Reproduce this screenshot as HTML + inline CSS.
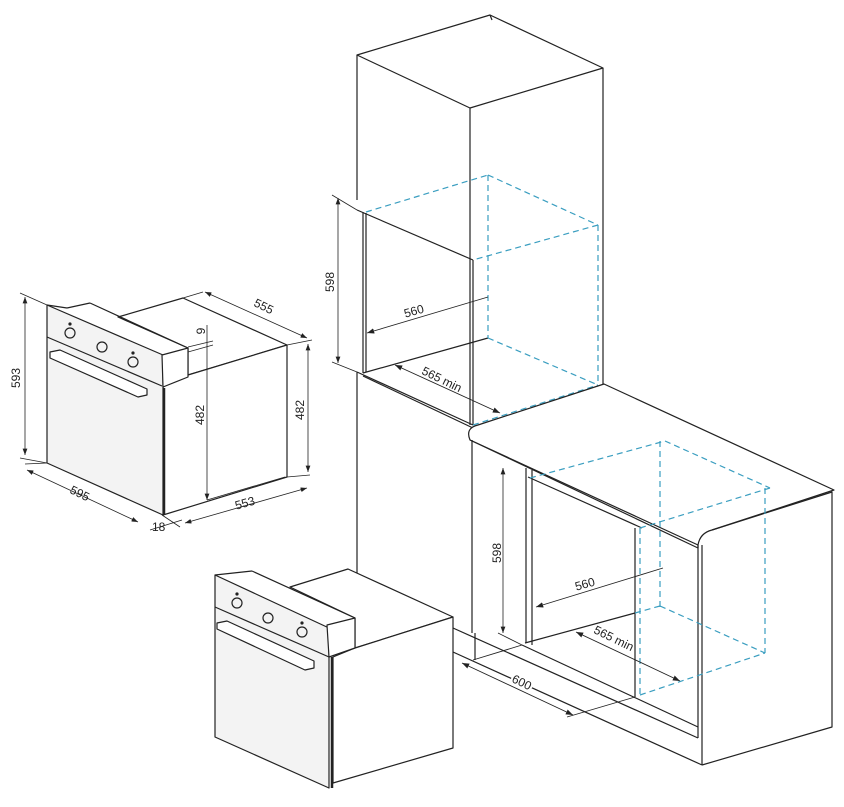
<!DOCTYPE html>
<html><head><style>
html,body{margin:0;padding:0;background:#fff;}
svg{display:block;}
text{font-family:"Liberation Sans",sans-serif;font-size:12px;fill:#222;}
</style></head><body>
<svg width="844" height="807" viewBox="0 0 844 807" xmlns="http://www.w3.org/2000/svg">
<defs>
<marker id="a" markerWidth="8" markerHeight="6" refX="8" refY="3" orient="auto-start-reverse"><path d="M0,0 L8,3 L0,6 z" fill="#222"/></marker>
</defs>
<g stroke="#222" stroke-width="1.2" fill="none" stroke-linejoin="round">

<polygon points="118,317 183,298 287,345 188,375 188,348" fill="#fff"/>
<polygon points="188,375 287,345 287,477 163,515 163,387" fill="#fff"/>
<polygon points="47,305 163,355 163,515 47,463" fill="#f3f3f3"/>
<line x1="47" y1="337" x2="162" y2="386"/>
<polygon points="162,355 188,348 188,377 163,387" fill="#fff"/>
<line x1="47" y1="305" x2="67" y2="308"/><line x1="67" y1="308" x2="90" y2="303"/><line x1="90" y1="303" x2="188" y2="348"/>
<line x1="164" y1="388" x2="164" y2="515" stroke-width="2.5"/>
<circle cx="70" cy="333" r="5"/><circle cx="102" cy="347" r="5"/><circle cx="133" cy="362" r="5"/>
<circle cx="70" cy="324" r="1" fill="#222"/><circle cx="133" cy="353" r="1" fill="#222"/>
<polygon points="50,352 60,350 147,389 147,395 138,397 50,358" fill="#fff"/>
<line x1="25" y1="297" x2="25" y2="455" marker-start="url(#a)" marker-end="url(#a)" stroke-width="0.8"/>
<line x1="20" y1="293" x2="47" y2="305" stroke-width="0.8"/><line x1="20" y1="458" x2="47" y2="463" stroke-width="0.8"/>
<line x1="27" y1="470" x2="138" y2="522" marker-start="url(#a)" marker-end="url(#a)" stroke-width="0.8"/>
<line x1="25" y1="464" x2="47" y2="463" stroke-width="0.8"/>
<line x1="162" y1="515" x2="180" y2="527" stroke-width="0.8"/>
<line x1="150" y1="530" x2="182" y2="520" stroke-width="0.8"/>
<line x1="205" y1="292" x2="307" y2="338" marker-start="url(#a)" marker-end="url(#a)" stroke-width="0.8"/>
<line x1="183" y1="298" x2="203" y2="292" stroke-width="0.8"/>
<line x1="287" y1="345" x2="312" y2="340" stroke-width="0.8"/>
<line x1="207" y1="325" x2="207" y2="500" marker-end="url(#a)" stroke-width="0.8"/>
<line x1="188" y1="352" x2="213" y2="345" stroke-width="0.8"/>
<line x1="188" y1="347" x2="213" y2="341" stroke-width="0.8"/>
<line x1="308" y1="344" x2="308" y2="472" marker-start="url(#a)" marker-end="url(#a)" stroke-width="0.8"/>
<line x1="287" y1="477" x2="310" y2="475" stroke-width="0.8"/>
<line x1="185" y1="523" x2="307" y2="488" marker-start="url(#a)" marker-end="url(#a)" stroke-width="0.8"/>
<line x1="207" y1="500" x2="285" y2="477" stroke-width="0.8"/>

<polygon points="357,55 490,15 603,68 470,108" fill="#fff"/>
<line x1="357" y1="55" x2="357" y2="200"/>
<line x1="470" y1="108" x2="470" y2="260"/>
<line x1="603" y1="68" x2="603" y2="385"/>
<line x1="490" y1="15" x2="492" y2="20"/>
<line x1="363" y1="212" x2="363" y2="373"/><line x1="366" y1="213" x2="366" y2="372"/>
<line x1="357" y1="210" x2="473" y2="260"/>
<line x1="470" y1="260" x2="470" y2="425"/><line x1="473" y1="260" x2="473" y2="425"/>
<line x1="363" y1="373" x2="488" y2="338"/>
<line x1="357" y1="372" x2="473" y2="425"/><line x1="363" y1="376" x2="473" y2="428"/>
<line x1="357" y1="372" x2="357" y2="610"/>
<line x1="473" y1="428" x2="603" y2="385"/>
<g stroke="#3a9ec0" stroke-dasharray="6,4">
<line x1="366" y1="212" x2="488" y2="175"/><line x1="488" y1="175" x2="598" y2="225"/><line x1="598" y1="225" x2="473" y2="260"/>
<line x1="488" y1="175" x2="488" y2="338"/><line x1="598" y1="225" x2="598" y2="385"/>
<line x1="488" y1="338" x2="598" y2="385"/><line x1="473" y1="425" x2="598" y2="385"/>
</g>
<line x1="338" y1="198" x2="338" y2="363" marker-start="url(#a)" marker-end="url(#a)" stroke-width="0.8"/>
<line x1="332" y1="195" x2="357" y2="210" stroke-width="0.8"/><line x1="332" y1="362" x2="357" y2="372" stroke-width="0.8"/>
<line x1="367" y1="333" x2="488" y2="297" marker-start="url(#a)" stroke-width="0.9"/>
<line x1="395" y1="365" x2="500" y2="413" marker-start="url(#a)" marker-end="url(#a)" stroke-width="0.9"/>

<path d="M470,440 Q465,428 478,425 L604,384 L834,490 L712,530 Q700,533 698,545 L698,548 Z" fill="#fff"/>
<path d="M470,440 L698,545"/>
<path d="M698,545 L698,738 M702,545 L702,765"/>
<path d="M712,530 L832,492 L832,727 L702,765"/>
<line x1="472" y1="440" x2="472" y2="633"/>
<line x1="475" y1="633" x2="475" y2="660"/>
<line x1="453" y1="628" x2="698" y2="738"/>
<line x1="453" y1="652" x2="702" y2="765"/>
<line x1="522" y1="645" x2="698" y2="727"/>
<line x1="526" y1="468" x2="526" y2="643"/><line x1="532" y1="470" x2="532" y2="645"/>
<line x1="528" y1="477" x2="642" y2="528"/>
<line x1="635" y1="528" x2="635" y2="697"/>
<line x1="525" y1="643" x2="635" y2="613"/>
<g stroke="#3a9ec0" stroke-dasharray="6,4">
<line x1="530" y1="478" x2="665" y2="441"/><line x1="665" y1="441" x2="770" y2="488"/><line x1="770" y1="488" x2="640" y2="528"/>
<line x1="660" y1="441" x2="660" y2="607"/><line x1="765" y1="488" x2="765" y2="653"/><line x1="640" y1="528" x2="640" y2="695"/>
<line x1="660" y1="606" x2="765" y2="653"/><line x1="640" y1="695" x2="765" y2="653"/><line x1="635" y1="613" x2="660" y2="606"/>
</g>
<line x1="503" y1="468" x2="503" y2="633" marker-start="url(#a)" marker-end="url(#a)" stroke-width="0.8"/>
<line x1="498" y1="633" x2="522" y2="645" stroke-width="0.8"/>
<line x1="536" y1="607" x2="663" y2="568" marker-start="url(#a)" stroke-width="0.9"/>
<line x1="576" y1="632" x2="680" y2="681" marker-start="url(#a)" marker-end="url(#a)" stroke-width="0.9"/>
<line x1="462" y1="663" x2="573" y2="715" marker-start="url(#a)" marker-end="url(#a)" stroke-width="0.9"/>
<line x1="567" y1="717" x2="635" y2="697" stroke-width="0.9"/>
<line x1="473" y1="660" x2="522" y2="645" stroke-width="0.9"/>

<polygon points="290,587 348,569 453,617 355,648 355,618" fill="#fff"/>
<polygon points="355,648 453,617 453,748 333,783 333,657" fill="#fff"/>
<polygon points="215,575 329,628 329,788 215,737" fill="#f3f3f3"/>
<line x1="215" y1="607" x2="329" y2="657"/>
<polygon points="327,625 355,618 355,648 329,657" fill="#fff"/>
<line x1="215" y1="575" x2="252" y2="571"/><line x1="252" y1="571" x2="355" y2="618"/>
<line x1="332" y1="657" x2="332" y2="788" stroke-width="2.5"/>
<circle cx="237" cy="603" r="5"/><circle cx="268" cy="618" r="5"/><circle cx="302" cy="632" r="5"/>
<circle cx="237" cy="594" r="1" fill="#222"/><circle cx="302" cy="623" r="1" fill="#222"/>
<polygon points="217,623 227,621 314,661 314,668 305,670 217,629" fill="#fff"/>
</g>
<text transform="translate(20,378) rotate(-90)" text-anchor="middle">593</text>
<text transform="translate(78,497) rotate(26)" text-anchor="middle">595</text>
<text x="152" y="531">18</text>
<text transform="translate(262,310) rotate(26)" text-anchor="middle">555</text>
<text transform="translate(205,331) rotate(-90)" text-anchor="middle">9</text>
<text transform="translate(204,415) rotate(-90)" text-anchor="middle">482</text>
<text transform="translate(304,410) rotate(-90)" text-anchor="middle">482</text>
<text transform="translate(246,507) rotate(-16)" text-anchor="middle">553</text>
<text transform="translate(334,282) rotate(-90)" text-anchor="middle">598</text>
<text transform="translate(415,315) rotate(-16)" text-anchor="middle">560</text>
<text transform="translate(440,383) rotate(26)" text-anchor="middle">565 min</text>
<text transform="translate(501,553) rotate(-90)" text-anchor="middle">598</text>
<text transform="translate(586,588) rotate(-16)" text-anchor="middle">560</text>
<text transform="translate(612,642) rotate(26)" text-anchor="middle">565 min</text>
<text transform="translate(520,686) rotate(26)" text-anchor="middle" style="paint-order:stroke;stroke:#fff;stroke-width:4px">600</text>
</svg>
</body></html>
